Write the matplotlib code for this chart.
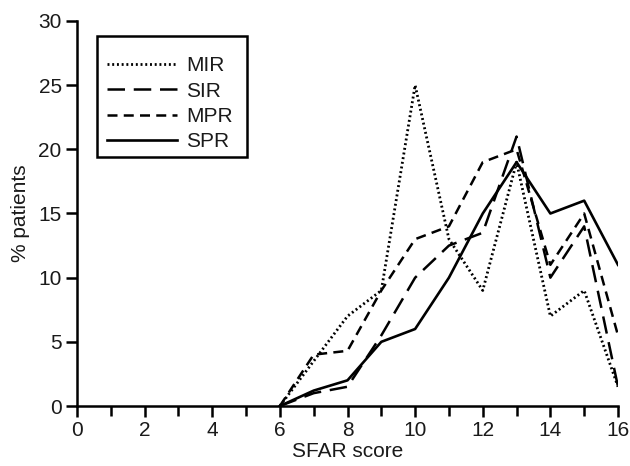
import matplotlib
matplotlib.use('Agg')
import matplotlib.pyplot as plt
from matplotlib.patches import Rectangle

plt.rcParams['font.family'] = ['Liberation Sans', 'DejaVu Sans']

# SFAR score (x) and % patients per group
score = [6, 7, 8, 9, 10, 11, 12, 13, 14, 15, 16]
mir = [0, 3.5, 7, 9, 25, 13, 9, 19, 7, 9, 1.5]
sir = [0, 1, 1.5, 5.5, 10, 12.5, 13.5, 21, 10, 14, 1.5]
mpr = [0, 4, 4.3, 9, 13, 14, 19, 20, 11, 15, 5.5]
spr = [0, 1.2, 2, 5, 6, 10, 15, 19, 15, 16, 11]

xticks = list(range(0, 17, 2))
yticks = list(range(0, 31, 5))

fig = plt.figure(figsize=(6.3, 4.66), dpi=100)
ax = fig.add_axes([77/630, 1 - 406/466, 541/630, 385/466])

ax.plot(score, mir, color='black', lw=2.0, linestyle=(0, (0.7, 1.0)), label='MIR')
ax.plot(score, sir, color='black', lw=1.8, linestyle=(0, (7, 3.5)), label='SIR')
ax.plot(score, mpr, color='black', lw=1.8, linestyle=(0, (4, 2.5)), label='MPR')
ax.plot(score, spr, color='black', lw=1.9, linestyle='-', label='SPR')

ax.set_xlim(0, 16)
ax.set_ylim(0, 30)
ax.set_xticks(xticks)
ax.set_xticks(range(0, 17), minor=True)
ax.set_yticks(yticks)
ax.spines['top'].set_visible(False)
ax.spines['right'].set_visible(False)
for s in ['left', 'bottom']:
    ax.spines[s].set_linewidth(1.8)
ax.tick_params(axis='both', which='major', direction='out', length=8, width=1.8,
               labelsize=15, pad=3)
ax.tick_params(axis='x', which='minor', direction='out', length=7, width=1.8)
for lbl in ax.get_xticklabels() + ax.get_yticklabels():
    lbl.set_color('#1a1a1a')

ax.set_xlabel('SFAR score', fontsize=15, color='#1a1a1a', labelpad=1)
ax.set_ylabel('% patients', fontsize=15, color='#1a1a1a', labelpad=6)

# legend entries without frame, box drawn separately
leg = ax.legend(loc='upper left', bbox_to_anchor=(0.0555, 0.908), fontsize=15,
                frameon=False, handlelength=3.35, handletextpad=0.45,
                labelspacing=0.3, borderpad=0, borderaxespad=0)
for t in leg.get_texts():
    t.set_color('#1a1a1a')
ax.add_patch(Rectangle((20/541, 249/385), 150/541, 121/385, transform=ax.transAxes,
                       fill=False, edgecolor='black', lw=1.8, clip_on=False, zorder=5))

fig.savefig('out.png', dpi=100)
